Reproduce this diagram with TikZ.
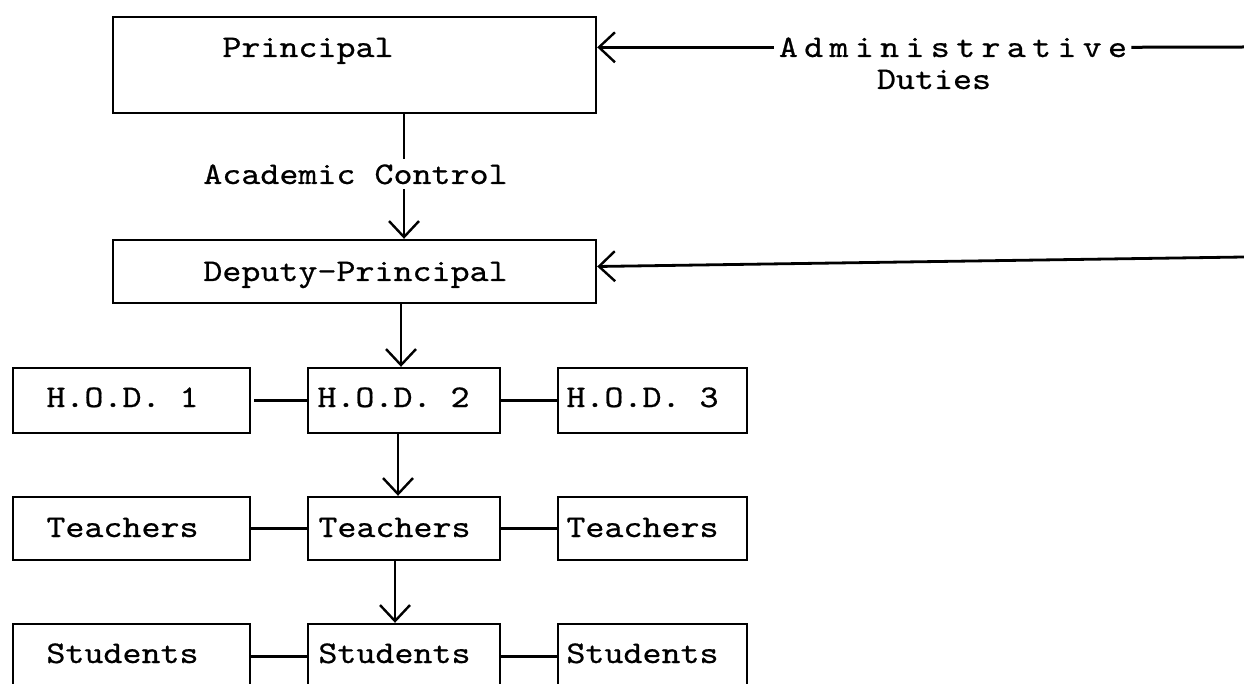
\documentclass[tikz,border=0pt]{standalone}
\usepackage{fontspec}
\newfontfamily\chartfont{lmmono10-regular}[Extension=.otf, FakeStretch=1.15, FakeBold=0.6]
\newfontfamily\chartwide{lmmono10-regular}[Extension=.otf, FakeStretch=1.15, FakeBold=0.6, LetterSpace=20]
\usetikzlibrary{arrows.meta}
\tikzset{
  box/.style={draw, rectangle, line width=2.4pt, inner sep=0pt},
  lbl/.style={inner sep=0pt, anchor=base, font=\chartfont\fontsize{31.5}{36}\selectfont},
  widelbl/.style={inner sep=0pt, anchor=base, font=\chartwide\fontsize{31.5}{36}\selectfont},
  flow/.style={line width=2.8pt, -{Straight Barb[length=16pt,width=30pt,line width=2.4pt]}},
  link/.style={line width=3pt},
}
\begin{document}
\begin{tikzpicture}[x=1pt, y=-1pt]
\useasboundingbox (0,0) rectangle (1244,684);
\clip (0,0) rectangle (1244,684);

% boxes
\node[box, minimum width=483, minimum height=96] (pri) at (354.5,65) {};
\node[box, minimum width=483, minimum height=63] (dep) at (354.5,271.5) {};

\node[box, minimum width=237, minimum height=65] (hod1) at (131.5,400.5) {};
\node[box, minimum width=192, minimum height=65] (hod2) at (404,400.5) {};
\node[box, minimum width=189, minimum height=65] (hod3) at (652.5,400.5) {};

\node[box, minimum width=237, minimum height=63] (tch1) at (131.5,528.5) {};
\node[box, minimum width=192, minimum height=63] (tch2) at (404,528.5) {};
\node[box, minimum width=189, minimum height=63] (tch3) at (652.5,528.5) {};

\node[box, minimum width=237, minimum height=64] (stu1) at (131.5,656) {};
\node[box, minimum width=192, minimum height=64] (stu2) at (404,656) {};
\node[box, minimum width=189, minimum height=64] (stu3) at (652.5,656) {};

% box texts
\node[lbl] (pri-t) at (308,57) {Principal};
\node[lbl] (dep-t) at (355.5,281) {Deputy-Principal};
\node[lbl] (hod1-t) at (122.5,407) {H.O.D. 1};
\node[lbl] (hod2-t) at (393.5,407) {H.O.D. 2};
\node[lbl] (hod3-t) at (642.5,407) {H.O.D. 3};
\node[lbl] (tch1-t) at (122.5,537) {Teachers};
\node[lbl] (tch2-t) at (394.5,537) {Teachers};
\node[lbl] (tch3-t) at (642.5,537) {Teachers};
\node[lbl] (stu1-t) at (122.5,663) {Students};
\node[lbl] (stu2-t) at (394.5,663) {Students};
\node[lbl] (stu3-t) at (642.5,663) {Students};

% administrative duties from the right
\node[widelbl] (adm) at (953,57) {Administrative};
\node[lbl] (duty) at (934,89) {Duties};
\coordinate (edgeTop) at (1244,47);
\coordinate (edgeLow) at (1244,257);
\draw[link] ([xshift=4pt]adm.east) -- (edgeTop);
\draw[flow] ([xshift=-5pt]adm.west) -- (adm.west -| pri.east);
\draw[flow] (edgeLow) -- ([yshift=5pt]dep.east);

% academic line of control
\draw[flow] (hod2.north |- pri.south) -- (hod2.north |- dep.north);
\node[lbl, fill=white, inner ysep=5pt] (acad) at (355.5,184) {Academic Control};
\draw[flow] ([xshift=-3pt]hod2.north |- dep.south) -- ([xshift=-3pt]hod2.north);
\draw[flow] ([xshift=-6pt]tch2.north |- hod2.south) -- ([xshift=-6pt]tch2.north);
\draw[flow] ([xshift=-9pt]stu2.north |- tch2.south) -- ([xshift=-9pt]stu2.north);

% links within each level
\draw[link] ([xshift=3pt]hod1.east) -- (hod2.west);
\draw[link] (hod2.east) -- (hod3.west);
\draw[link] (tch1.east) -- (tch2.west);
\draw[link] (tch2.east) -- (tch3.west);
\draw[link] (stu1.east) -- (stu2.west);
\draw[link] (stu2.east) -- (stu3.west);
\end{tikzpicture}
\end{document}
